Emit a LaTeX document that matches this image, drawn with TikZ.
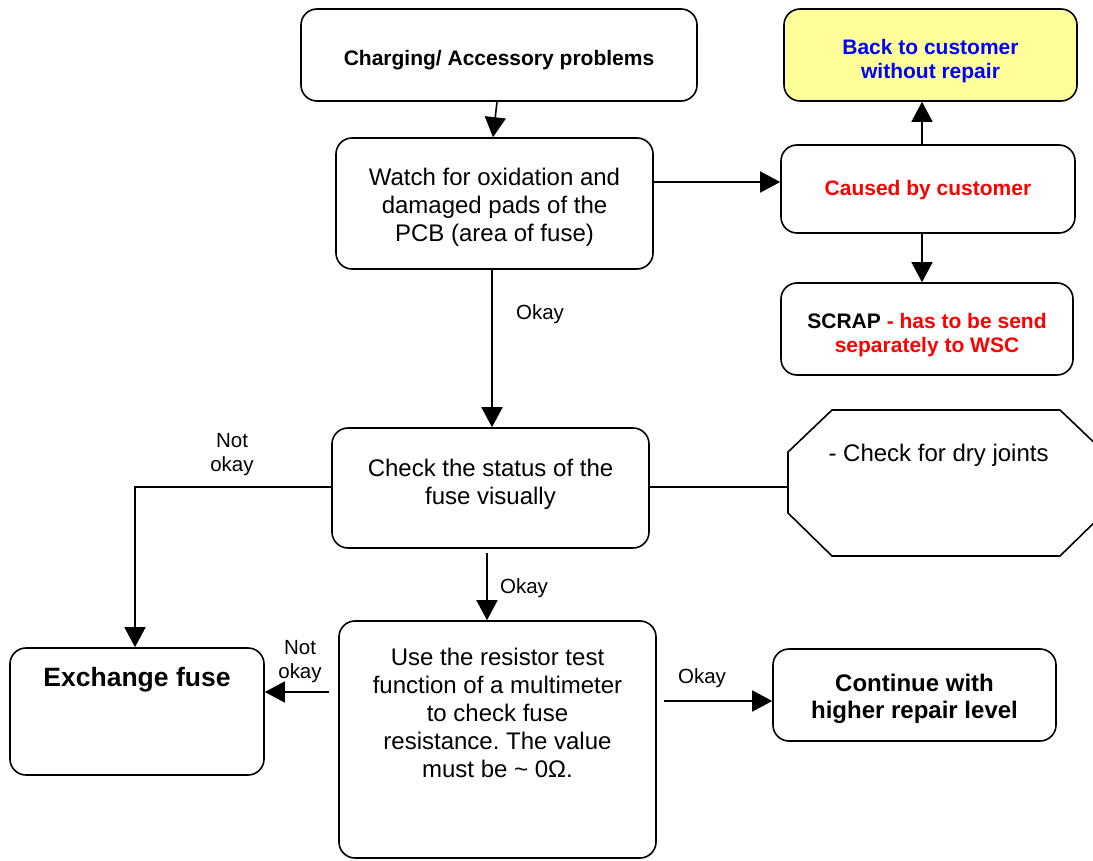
\documentclass[tikz,border=0pt]{standalone}
\usepackage{fontspec}
\setmainfont{Liberation Sans}
\usetikzlibrary{arrows.meta}
\definecolor{noteyellow}{HTML}{FFFF99}
\definecolor{txtblue}{HTML}{0000FF}
\definecolor{txtred}{HTML}{FF0000}
\frenchspacing
\begin{document}
\begin{tikzpicture}[x=1pt,y=-1pt,
  box/.style={draw, line width=1.6pt, rounded corners=16pt, align=center, inner sep=0pt},
  txt/.style={font=\fontsize{24}{28}\selectfont, align=center},
  btxt/.style={font=\fontsize{21}{24}\selectfont\bfseries, align=center},
  lbl/.style={font=\fontsize{20.5}{24}\selectfont, align=center},
  conn/.style={line width=1.6pt},
  arr/.style={conn, -{Triangle[length=20pt,width=21pt]}}]
\useasboundingbox (0,0) rectangle (1093,861);
\clip (0,0) rectangle (1093,861);

% boxes
\node[box, minimum width=396pt, minimum height=92pt] (charge) at (499,55) {};
\node[btxt] at ([yshift=-5pt]charge.center) {Charging/ Accessory problems};
\node[box, minimum width=293pt, minimum height=92pt, fill=noteyellow] (back) at (930.5,55) {};
\node[btxt, text=txtblue] at ([yshift=-6pt]back.center) {Back to customer\\without repair};
\node[box, minimum width=317pt, minimum height=131pt] (watch) at (494.5,203.5) {};
\node[txt] at ([yshift=-4pt]watch.center) {Watch for oxidation and\\damaged pads of the\\PCB (area of fuse)};
\node[box, minimum width=294pt, minimum height=88pt] (cause) at (928,189) {};
\node[btxt, text=txtred] at ([yshift=-1pt]cause.center) {Caused by customer};
\node[box, minimum width=292pt, minimum height=92pt] (scrap) at (927,329) {};
\node[btxt] at ([yshift=-6pt]scrap.center) {SCRAP \textcolor{txtred}{- has to be send}\\\textcolor{txtred}{separately to WSC}};
\node[box, minimum width=317pt, minimum height=120pt] (check) at (490.5,488) {};
\node[txt] at ([yshift=4pt]check.center) {Check the status of the\\fuse visually};
\node[box, minimum width=254pt, minimum height=127pt] (exch) at (137,711.5) {};
\node[anchor=north, font=\fontsize{26.5}{30}\selectfont\bfseries] at ([yshift=-17pt]exch.north) {Exchange fuse};
\node[box, minimum width=317pt, minimum height=237pt] (use) at (497.5,739.5) {};
\node[anchor=north, txt] at ([yshift=-24pt]use.north) {Use the resistor test\\function of a multimeter\\to check fuse\\resistance. The value\\must be \textasciitilde{} 0Ω.};
\node[box, minimum width=283pt, minimum height=92pt] (cont) at (914.5,695) {};
\node[font=\fontsize{24}{27}\selectfont\bfseries, align=center] at ([yshift=-4pt]cont.center) {Continue with\\higher repair level};

% octagon with the dry-joint check
\draw[line width=1.6pt] (832,410) -- (1060,410) -- (1104,452) -- (1104,513) -- (1060,556)
  -- (832,556) -- (788,513) -- (788,452) -- cycle;
\coordinate (oct) at (788,487);
\node[anchor=west, txt] at (825,455) {- Check for dry joints};

% connectors
\draw[arr] ([xshift=-2pt]charge.south) -- ([xshift=-1.5pt]watch.north);
\draw[arr] (watch.east |- 0,182) -- (cause.west |- 0,182);
\draw[arr] (cause.north -| 922,0) -- (back.south -| 922,0);
\draw[arr] (cause.south -| 922,0) -- (scrap.north -| 922,0);
\draw[arr] (watch.south -| 492,0) -- (check.north -| 492,0);
\node[lbl] at (540,314) {Okay};
\coordinate (bend) at (135,487);
\draw[arr] (check.west |- bend) -- (bend) -- (exch.north -| bend);
\node[lbl] at (232,455) {Not\\okay};
\draw[conn] (check.east |- oct) -- (oct);
\draw[arr] ([yshift=-4pt]check.south -| 487,0) -- (use.north -| 487,0);
\node[lbl] at (524,588) {Okay};
\draw[arr] ([xshift=-9pt]use.west |- 0,692) -- (exch.east |- 0,692);
\node[lbl] at (300,662) {Not\\okay};
\draw[arr] ([xshift=7pt]use.east |- 0,701) -- (cont.west |- 0,701);
\node[lbl] at (702,678) {Okay};
\end{tikzpicture}
\end{document}
